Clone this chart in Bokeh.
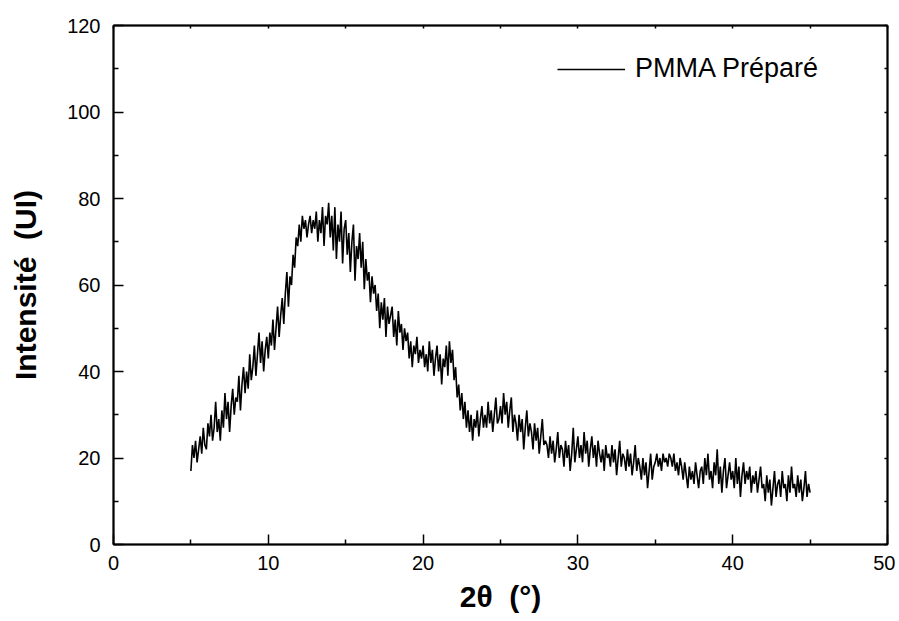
from bokeh.plotting import figure
from bokeh.models import LinearAxis, FixedTicker, Legend, LegendItem, Range1d, CustomJSTickFormatter
from bokeh.embed import file_html
from bokeh.resources import INLINE

# 2theta from 5.0 to 45.0 deg, step 0.1 deg
two_theta_start = 5.0
two_theta_step = 0.1
intensity = [
    17, 23, 20, 24, 19, 22, 25, 21, 27, 23,
    22, 28, 25, 30, 24, 27, 33, 26, 29, 24,
    31, 27, 35, 29, 33, 26, 32, 36, 30, 34,
    33, 39, 31, 37, 41, 35, 40, 36, 44, 38,
    41, 46, 39, 44, 49, 42, 47, 40, 45, 48,
    43, 49, 46, 52, 45, 50, 55, 48, 53, 57,
    51, 58, 63, 55, 62, 60, 67, 64, 71, 69,
    74, 70, 76, 73, 75, 71, 74, 76, 72, 75,
    73, 77, 70, 75, 72, 78, 69, 76, 74, 79,
    71, 76, 68, 78, 66, 74, 70, 77, 65, 73,
    75, 67, 72, 63, 70, 74, 61, 69, 66, 72,
    64, 70, 59, 66, 61, 63, 56, 62, 58, 60,
    54, 58, 50, 56, 52, 57, 48, 55, 51, 53,
    55, 48, 52, 46, 54, 49, 51, 45, 50, 47,
    49, 43, 47, 41, 46, 44, 48, 42, 45, 43,
    46, 41, 44, 40, 47, 42, 45, 39, 43, 46,
    40, 44, 37, 43, 41, 46, 39, 47, 42, 45,
    38, 41, 34, 37, 31, 35, 29, 33, 27, 31,
    26, 30, 24, 29, 27, 31, 25, 29, 32, 27,
    30, 27, 33, 28, 31, 26, 30, 34, 28, 29,
    32, 28, 35, 30, 33, 27, 31, 34, 26, 30,
    28, 24, 30, 26, 29, 22, 27, 31, 25, 28,
    26, 22, 28, 24, 27, 21, 25, 29, 23, 24,
    23, 20, 25, 21, 24, 19, 22, 26, 20, 23,
    22, 18, 24, 20, 23, 17, 21, 27, 19, 22,
    25, 20, 23, 19, 26, 21, 24, 18, 22, 25,
    20, 23, 18, 24, 21, 19, 22, 17, 23, 20,
    21, 18, 23, 19, 22, 16, 20, 24, 18, 21,
    20, 17, 22, 18, 21, 16, 19, 23, 17, 20,
    18, 15, 20, 16, 19, 13, 17, 21, 15, 18,
    19, 21, 18, 20, 17, 21, 19, 20, 18, 21,
    20, 18, 21, 17, 19, 16, 20, 18, 15, 19,
    16, 13, 18, 15, 17, 14, 19, 16, 13, 17,
    18, 14, 20, 16, 21, 15, 17, 13, 19, 16,
    22, 14, 18, 12, 17, 20, 13, 16, 19, 15,
    17, 13, 20, 14, 18, 11, 16, 19, 14, 17,
    15, 18, 12, 16, 14, 17, 12, 15, 18, 13,
    14, 10, 16, 12, 15, 9, 13, 17, 11, 14,
    15, 11, 17, 13, 14, 10, 16, 12, 18, 13,
    14, 11, 16, 12, 15, 10, 13, 17, 11, 14,
    12,
]
two_theta = [round(two_theta_start + i * two_theta_step, 2) for i in range(len(intensity))]

x_major = [0, 10, 20, 30, 40, 50]
x_minor = [5, 15, 25, 35, 45]
y_major = [0, 20, 40, 60, 80, 100, 120]
y_minor = [10, 30, 50, 70, 90, 110]
series_label = "PMMA Préparé"
x_title = "2θ\u00a0\u00a0(°)"
y_title = "Intensité\u00a0\u00a0(UI)"

FONT = "Liberation Sans"

p = figure(width=895, height=621, output_backend="svg", toolbar_location=None,
           x_range=Range1d(0, 50), y_range=Range1d(0, 120),
           min_border_left=113, min_border_right=8, min_border_top=25, min_border_bottom=77,
           x_axis_location=None, y_axis_location=None)
p.grid.visible = False
p.outline_line_color = "black"
p.outline_line_width = 1.5
p.background_fill_color = "white"
p.border_fill_color = "white"

line = p.line(two_theta, intensity, line_color="black", line_width=1.6)

def style_axis(ax, labels=True):
    ax.axis_line_width = 2
    ax.axis_line_color = "black"
    ax.major_tick_line_color = "black"
    ax.minor_tick_line_color = "black"
    ax.major_tick_line_width = 1.5
    ax.minor_tick_line_width = 1.5
    ax.major_tick_out = 0
    ax.minor_tick_out = 0
    if labels:
        ax.major_tick_in = 10
        ax.minor_tick_in = 5
        ax.major_label_text_font = FONT
        ax.major_label_text_font_size = "20px"
        ax.major_label_text_color = "black"
        ax.axis_label_text_font = FONT
        ax.axis_label_text_font_style = "bold"
        ax.axis_label_text_color = "black"
    else:
        ax.major_tick_in = 3
        ax.minor_tick_in = 0
        ax.formatter = CustomJSTickFormatter(code="return ''")
        ax.major_label_standoff = 0

xb = LinearAxis(ticker=FixedTicker(ticks=x_major, minor_ticks=x_minor), axis_label=x_title)
style_axis(xb)
xb.major_label_standoff = 11
xb.axis_label_standoff = 7
xb.axis_label_text_font_size = "30px"
p.add_layout(xb, "below")

yl = LinearAxis(ticker=FixedTicker(ticks=y_major, minor_ticks=y_minor), axis_label=y_title)
style_axis(yl)
yl.major_label_standoff = 13
yl.axis_label_standoff = 22
yl.axis_label_text_font_size = "30px"
p.add_layout(yl, "left")

xt = LinearAxis(ticker=FixedTicker(ticks=x_major + x_minor))
style_axis(xt, labels=False)
p.add_layout(xt, "above")

yr = LinearAxis(ticker=FixedTicker(ticks=y_major + y_minor))
style_axis(yr, labels=False)
p.add_layout(yr, "right")

legend = Legend(items=[LegendItem(label=series_label, renderers=[line])],
                location=(444, 460), padding=0, margin=0, spacing=0,
                glyph_width=68, glyph_height=30, label_height=30, label_standoff=10,
                label_text_font=FONT, label_text_font_size="27px", label_text_color="black",
                border_line_alpha=0, background_fill_alpha=0)
p.add_layout(legend, "center")

open("out.html", "w").write(file_html(p, INLINE))
